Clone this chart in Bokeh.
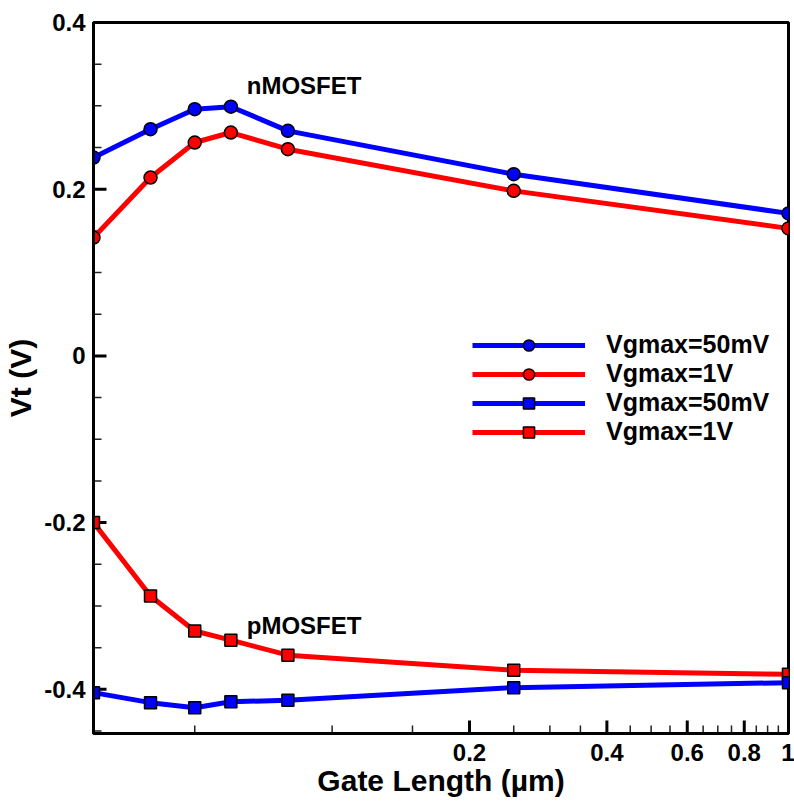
import math
from bokeh.plotting import figure
from bokeh.models import (Range1d, FixedTicker, NumeralTickFormatter, Legend, LegendItem, Label)
from bokeh.embed import file_html
from bokeh.resources import INLINE

# ---- data ----
gate_length = [0.03, 0.04, 0.05, 0.06, 0.08, 0.25, 1.0]
n_vg50mv = [0.238, 0.272, 0.296, 0.299, 0.270, 0.218, 0.171]
n_vg1v = [0.142, 0.214, 0.256, 0.268, 0.248, 0.198, 0.153]
p_vg1v = [-0.200, -0.288, -0.330, -0.341, -0.359, -0.377, -0.382]
p_vg50mv = [-0.404, -0.416, -0.422, -0.415, -0.413, -0.398, -0.392]

x_major = [0.2, 0.4, 0.6, 0.8, 1]
x_minor = [0.05, 0.1, 0.15, 0.25, 0.3, 0.35, 0.45, 0.5, 0.55, 0.65, 0.7, 0.75, 0.85, 0.9, 0.95]
y_major = [-0.4, -0.2, 0, 0.2, 0.4]
y_minor = [-0.45, -0.35, -0.3, -0.25, -0.15, -0.1, -0.05, 0.05, 0.1, 0.15, 0.25, 0.3, 0.35]

labels = ["Vgmax=50mV", "Vgmax=1V", "Vgmax=50mV", "Vgmax=1V"]
annotations = [("nMOSFET", 0.065, 0.324), ("pMOSFET", 0.065, -0.324)]

FONT = "Liberation Sans"
BLUE = "#0000ff"
RED = "#ff0000"

X0, X1 = 0.03, 1.0
Y0, Y1 = -0.453, 0.4
W, H = 794, 804
BL, BR, BT, BB = 93, 6, 22, 71
FW, FH = W - BL - BR, H - BT - BB

p = figure(width=W, height=H, output_backend="svg", toolbar_location=None,
           x_axis_type="log", x_range=Range1d(X0, X1), y_range=Range1d(Y0, Y1),
           min_border_left=BL, min_border_right=BR, min_border_top=BT, min_border_bottom=BB)
p.grid.visible = False
p.outline_line_color = "black"
p.outline_line_width = 3
p.outline_line_alpha = 1.0

for ax in (p.xaxis[0], p.yaxis[0]):
    ax.axis_line_width = 3
    ax.major_tick_in = 0
    ax.major_tick_out = 0
    ax.minor_tick_in = 0
    ax.minor_tick_out = 0
    ax.major_label_text_font = FONT
    ax.major_label_text_font_style = "bold"
    ax.major_label_text_font_size = "24px"
    ax.major_label_text_color = "black"
    ax.axis_label_text_font = FONT
    ax.axis_label_text_font_style = "bold"
    ax.axis_label_text_font_size = "30px"
    ax.axis_label_text_color = "black"
    ax.formatter = NumeralTickFormatter(format="0.[0]")

p.xaxis[0].ticker = FixedTicker(ticks=x_major, minor_ticks=x_minor)
p.yaxis[0].ticker = FixedTicker(ticks=y_major, minor_ticks=y_minor)
p.xaxis[0].axis_label = "Gate Length (µm)"
p.yaxis[0].axis_label = "Vt (V)"
p.xaxis[0].major_label_standoff = 10
p.xaxis[0].axis_label_standoff = 0
p.yaxis[0].major_label_standoff = 8
p.yaxis[0].axis_label_standoff = 4

# inward tick marks (lengths in pixels converted to data units)
py_per_unit = FH / (Y1 - Y0)
px_per_dec = FW / (math.log10(X1) - math.log10(X0))

def dy(px):
    return px / py_per_unit

def xmul(px):
    return 10 ** (px / px_per_dec)

for ticks, L, lw, col in [(x_major, 13, 3, "black"), (x_minor, 8, 1.5, "#222222")]:
    p.segment(x0=ticks, y0=[Y0] * len(ticks), x1=ticks, y1=[Y0 + dy(L)] * len(ticks),
              line_color=col, line_width=lw)
for ticks, L, lw, col in [(y_major, 13, 3, "black"), (y_minor, 8, 1.5, "#222222")]:
    p.segment(x0=[X0] * len(ticks), y0=ticks, x1=[X0 * xmul(L)] * len(ticks), y1=ticks,
              line_color=col, line_width=lw)

series = [
    (n_vg50mv, BLUE, "circle", 13),
    (n_vg1v, RED, "circle", 13),
    (p_vg50mv, BLUE, "square", 12),
    (p_vg1v, RED, "square", 12),
]
items = []
order = [1, 0, 3, 2]
rend = {}
for i in order:
    ys, col, mk, sz = series[i]
    ln = p.line(gate_length, ys, line_color=col, line_width=5)
    sc = p.scatter(gate_length, ys, marker=mk, size=sz, fill_color=col,
                   line_color="black", line_width=1.5)
    rend[i] = (ln, sc)
for i in range(4):
    items.append(LegendItem(label=labels[i], renderers=list(rend[i])))

legend = Legend(items=items, location=(379, 287), padding=0, margin=0,
                glyph_width=113, glyph_height=28, label_height=28, spacing=0,
                label_standoff=21, border_line_color=None, background_fill_alpha=0,
                label_text_font=FONT, label_text_font_style="bold",
                label_text_font_size="25px", label_text_color="black")
p.add_layout(legend)

for txt, xx, yy in annotations:
    p.add_layout(Label(x=xx, y=yy, text=txt, text_font=FONT, text_font_style="bold",
                       text_font_size="24px", text_baseline="middle", text_color="black"))

open("out.html", "w").write(file_html(p, INLINE))
